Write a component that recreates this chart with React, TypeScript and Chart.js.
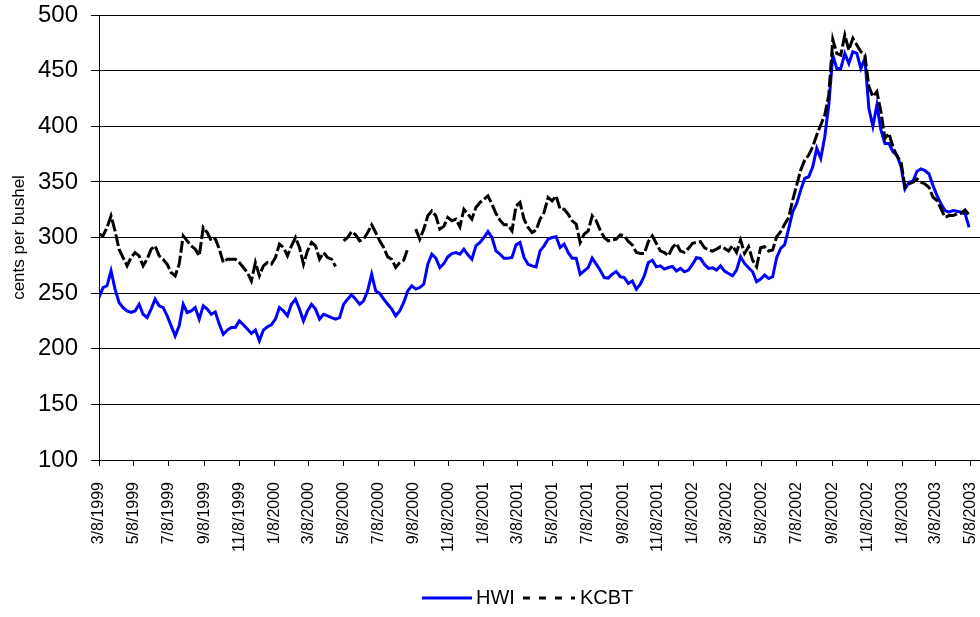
import React, { useEffect, useRef } from 'react';
import { Chart, registerables } from 'chart.js';

Chart.register(...registerables);

// ---- data ----
const START_DATE = '3/8/1999';
const STEP_DAYS = 7; // weekly readings from the picture

const TICK_LABELS = [
  '3/8/1999', '5/8/1999', '7/8/1999', '9/8/1999', '11/8/1999',
  '1/8/2000', '3/8/2000', '5/8/2000', '7/8/2000', '9/8/2000', '11/8/2000',
  '1/8/2001', '3/8/2001', '5/8/2001', '7/8/2001', '9/8/2001', '11/8/2001',
  '1/8/2002', '3/8/2002', '5/8/2002', '7/8/2002', '9/8/2002', '11/8/2002',
  '1/8/2003', '3/8/2003', '5/8/2003',
];

const HWI = [
  246, 255, 256.6, 270, 253.6, 241.6, 237, 234, 232.6, 234,
  240, 231, 228, 235.6, 244.6, 238.6, 237, 229.6, 220.6, 211.6,
  220.6, 240, 232.6, 234, 237, 226.6, 238.6, 235.6, 231, 233,
  222, 213, 216.8, 219.2, 219.2, 225, 221.6, 217.7, 213.8, 216.8,
  207.2, 216.8, 219.8, 221.6, 226.6, 237, 234, 229.6, 240, 244.6,
  235.6, 225, 234, 240, 235.6, 226.6, 231, 229.6, 228, 226.6,
  228, 240, 244.6, 248.5, 244.6, 240, 243, 252, 267, 252,
  249.7, 244.6, 240, 235.6, 229.6, 234, 241.6, 252, 256.6, 253.6,
  255, 258, 276, 285, 281.4, 273, 276.5, 282.6, 285.6, 286.5,
  285, 289.5, 284.4, 280.5, 292.5, 295.5, 300, 305.4, 300, 288,
  285, 281.4, 281.4, 282, 293.4, 295.5, 282, 276, 274.5, 273.6,
  288, 292.5, 298.5, 300, 300.7, 291, 294, 286.5, 281.4, 281.4,
  267, 270, 273, 281.4, 276, 270.6, 264, 263.5, 267, 269.5,
  264.7, 264, 258.7, 261, 253.6, 258, 265.6, 277.5, 279.6, 273.6,
  274.5, 271.6, 273, 274, 269.8, 272.2, 269.2, 270.7, 275.8, 281.8,
  281.2, 275.8, 272.2, 272.8, 270.7, 274.6, 269.8, 267.7, 265.6, 270.7,
  282.7, 276.7, 272.8, 269.2, 260.2, 262.6, 266.2, 263.2, 264.7, 281.8,
  290.2, 293.5, 308, 323, 330.6, 342.6, 353.1, 354.6, 363.6, 380.1,
  371.1, 390.6, 419.1, 464, 452, 452, 465.5, 456.5, 467, 465.5,
  452, 461, 416.1, 400, 419.1, 396.6, 384.6, 384.6, 377.1, 374,
  364, 343.6, 349.6, 350.5, 359.5, 361.6, 360.1, 357.1, 346.6, 337.6,
  330.2, 324.2, 322.7, 324.2, 323.6, 322.7, 321.2, 309.2,
];

const KCBT = [
  303, 301.5, 309, 319.5, 306, 289.5, 282, 274.5, 282, 286.5,
  283.5, 274.5, 280.5, 289.5, 292.5, 283.5, 280.5, 276, 268.5, 265.5,
  276, 301.5, 297, 292.5, 289.5, 283.5, 309, 304.5, 297, 299,
  289.5, 277.5, 280.5, 280.5, 280.5, 277.5, 273, 268.6, 261, 277.5,
  265.6, 274.5, 277.5, 276, 282, 294, 291, 283.5, 292.5, 300,
  291, 276, 288, 295.5, 292.5, 280.5, 286.5, 282, 280.5, 274,
  null, 297, 300, 305.4, 302.4, 297, 298.5, 304.5, 311.4, 304.5,
  297, 291, 282.6, 280.5, 273, 277.5, 279.6, 290, null, 307.5,
  298.5, 307.5, 319.5, 324, 319.5, 307.5, 310, 318, 315, 316.5,
  309.6, 325.4, 321, 316.5, 327, 331.4, 334.4, 337.4, 330, 321.6,
  315.6, 311.4, 311.4, 306, 328.4, 331.4, 316.5, 309, 304.5, 306.6,
  316.5, 322.5, 336, 333, 337.4, 325.5, 325.4, 321, 315, 312,
  295.5, 303, 306, 319.5, 315, 306.6, 300, 297, 297.7, 298.5,
  302.4, 301.5, 296.4, 293.4, 286.5, 285.6, 285.6, 296.4, 301.5, 294.6,
  288, 286.5, 283.5, 291, 294.7, 287.8, 286.6, 290.2, 294.7, 295.6,
  296.2, 290.8, 288.7, 287.8, 289.6, 291.7, 290.2, 287.8, 292.6, 286.6,
  297.7, 285.7, 291.7, 279.7, 273.7, 290.8, 291.7, 287.8, 288.7, 300.7,
  305.2, 312, 318, 333.6, 347.1, 360.6, 369.6, 374.1, 381.6, 392.1,
  401.1, 410.1, 428, 478, 465.5, 464, 482, 468.5, 479, 473,
  467, 464, 435.6, 426.6, 431.1, 413.1, 389.1, 393.6, 381.6, 373,
  368.5, 345.1, 348.1, 349.6, 352.6, 349.6, 348.1, 345.1, 336.2, 333.2,
  325.7, 318.2, 319.7, 319.7, 321.2, 321.8, 324.8, 320,
];

const SERIES_NAMES = ['HWI', 'KCBT'];
const Y_MIN = 100;
const Y_MAX = 500;
const Y_STEP = 50;
const X_MAX_DAYS = 1538;

// ---- helpers ----
function toUTC(label: string) {
  const [m, d, y] = label.split('/').map(Number);
  return Date.UTC(y, m - 1, d);
}
const START_MS = toUTC(START_DATE);
function dayOffset(label: string) {
  return Math.round((toUTC(label) - START_MS) / 86400000);
}
const TICK_DAYS = TICK_LABELS.map(dayOffset);
const LABEL_BY_DAY = new Map<number, string>(TICK_DAYS.map((d, i) => [d, TICK_LABELS[i]]));

const FONT = "'Liberation Sans', Arial, Helvetica, sans-serif";
const BLUE = '#0000FF';
const BLACK = '#000000';

const legendPlugin = {
  id: 'manualLegend',
  afterDraw(chart: any) {
    const ctx = chart.ctx as CanvasRenderingContext2D;
    const y = 598;
    const items = [
      { x1: 422, x2: 472, tx: 476, color: BLUE, dash: [] as number[], text: SERIES_NAMES[0] },
      { x1: 523, x2: 575, tx: 580, color: BLACK, dash: [7, 9], text: SERIES_NAMES[1] },
    ];
    ctx.save();
    ctx.font = `20px ${FONT}`;
    ctx.textBaseline = 'middle';
    ctx.textAlign = 'left';
    for (const it of items) {
      ctx.beginPath();
      ctx.setLineDash(it.dash);
      ctx.lineWidth = 3;
      ctx.strokeStyle = it.color;
      ctx.lineCap = 'butt';
      ctx.moveTo(it.x1, y);
      ctx.lineTo(it.x2, y);
      ctx.stroke();
      ctx.setLineDash([]);
      ctx.fillStyle = BLACK;
      ctx.fillText(it.text, it.tx, y);
    }
    ctx.restore();
  },
};

export default function App() {
  const canvasRef = useRef<HTMLCanvasElement | null>(null);

  useEffect(() => {
    const canvas = canvasRef.current;
    if (!canvas) return;
    const hwiPts = HWI.map((v, i) => ({ x: i * STEP_DAYS, y: v }));
    const kcbtPts = KCBT.map((v, i) => ({ x: i * STEP_DAYS, y: v }));

    const chart = new Chart(canvas, {
      type: 'line',
      data: {
        datasets: [
          {
            label: SERIES_NAMES[1],
            data: kcbtPts,
            borderColor: BLACK,
            borderWidth: 3,
            borderDash: [12, 3],
            pointRadius: 0,
            tension: 0,
            spanGaps: false,
            fill: false,
            order: 0,
          },
          {
            label: SERIES_NAMES[0],
            data: hwiPts,
            borderColor: BLUE,
            borderWidth: 3,
            pointRadius: 0,
            tension: 0,
            spanGaps: false,
            fill: false,
            order: 1,
          },
        ],
      },
      options: {
        animation: false,
        responsive: false,
        devicePixelRatio: 1,
        layout: { padding: { top: 15, left: 0, right: 0, bottom: 0 } },
        plugins: {
          legend: { display: false },
          tooltip: { enabled: false },
        },
        scales: {
          x: {
            type: 'linear',
            min: 0,
            max: X_MAX_DAYS,
            afterBuildTicks: (scale: any) => {
              scale.ticks = TICK_DAYS.map((v) => ({ value: v }));
            },
            afterFit: (scale: any) => {
              scale.height = 157;
              scale.paddingLeft = 0;
              scale.paddingRight = 0;
            },
            ticks: {
              autoSkip: false,
              minRotation: 90,
              maxRotation: 90,
              padding: 16,
              color: BLACK,
              font: { family: FONT, size: 16 },
              callback: (value: any) => LABEL_BY_DAY.get(Number(value)) ?? '',
            },
            grid: {
              drawOnChartArea: false,
              drawTicks: true,
              tickLength: 6,
              color: BLACK,
              lineWidth: 1,
            },
            border: { display: true, color: BLACK, width: 1 },
          },
          y: {
            type: 'linear',
            min: Y_MIN,
            max: Y_MAX,
            afterFit: (scale: any) => {
              scale.width = 99;
              scale.paddingTop = 0;
              scale.paddingBottom = 0;
            },
            ticks: {
              stepSize: Y_STEP,
              padding: 13,
              color: BLACK,
              font: { family: FONT, size: 24 },
            },
            grid: {
              color: BLACK,
              lineWidth: 1,
              drawTicks: true,
              tickLength: 8,
            },
            border: { display: true, color: BLACK, width: 1 },
            title: {
              display: true,
              text: 'cents per bushel',
              color: BLACK,
              font: { family: FONT, size: 17 },
              padding: { top: 9, bottom: 0 },
            },
          },
        },
      },
      plugins: [legendPlugin],
    } as any);

    return () => chart.destroy();
  }, []);

  return (
    <div style={{ position: 'fixed', left: 0, top: 0, width: 980, height: 617, background: '#fff' }}>
      <canvas ref={canvasRef} width={980} height={617} style={{ display: 'block', width: 980, height: 617 }} />
    </div>
  );
}
